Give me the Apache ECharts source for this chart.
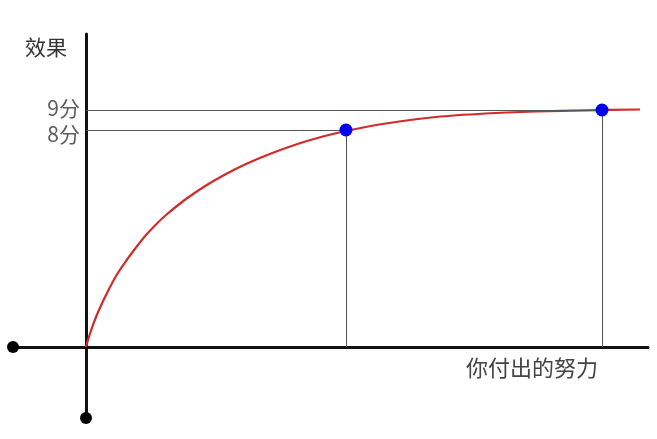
<!DOCTYPE html>
<html>
<head>
<meta charset="utf-8">
<script src="https://cdn.jsdelivr.net/npm/echarts@6/dist/echarts.min.js"></script>
<style>html,body{margin:0;padding:0;background:#fff;}#c{width:657px;height:439px;}</style>
</head>
<body>
<div id="c"></div>
<script>
// effort (x) vs effect (y)
var curveX = [0, 5, 10, 15, 20, 30, 40, 50, 60, 70, 80, 100, 120, 140, 160, 185, 210, 235, 260, 300, 350, 400, 450, 500, 554];
var curveY = [0, 16.5, 30, 41.5, 52, 71, 86, 99.5, 112, 122.5, 132, 148, 161.5, 173, 183, 193.5, 202.5, 210, 216, 223.5, 230, 233.5, 235.5, 236.7, 237.5];
var pointX = [260, 516];
var pointY = [217, 237];
var tickLabels = ['8分', '9分'];
var axisEnds = [[-73, 0], [0, -71]];
var yTitle = '效果';
var xTitle = '你付出的努力';

var font = '"Noto Sans CJK SC", "Noto Sans", sans-serif';
var curve = curveX.map(function (x, i) { return [x, curveY[i]]; });
var pts = pointX.map(function (x, i) { return [x, pointY[i]]; });
var guides = [];
pts.forEach(function (p) {
  guides.push([{ coord: [0, p[1]] }, { coord: [p[0], p[1]] }]);
  guides.push([{ coord: [p[0], p[1]] }, { coord: [p[0], 0] }]);
});
var labelOffsets = [[0, 4], [0, -1.5]];
var tickData = pts.map(function (p, i) {
  return { value: [0, p[1]], label: { formatter: tickLabels[i], offset: labelOffsets[i] } };
});

var chart = echarts.init(document.getElementById('c'));
chart.setOption({
  animation: false,
  grid: { left: 13, right: 9, top: 34, bottom: 21 },
  xAxis: {
    type: 'value', min: -73, max: 562,
    axisLine: { onZero: true, lineStyle: { color: '#111', width: 3 } },
    axisTick: { show: false }, axisLabel: { show: false }, splitLine: { show: false }
  },
  yAxis: {
    type: 'value', min: -71, max: 313,
    axisLine: { show: true, onZero: true, lineStyle: { color: '#111', width: 3 } },
    axisTick: { show: false }, axisLabel: { show: false }, splitLine: { show: false }
  },
  graphic: [
    { type: 'text', left: 25, top: 37, style: { text: yTitle, font: '21px ' + font, fill: '#333' } },
    { type: 'text', left: 466, top: 357, style: { text: xTitle, font: '22px ' + font, fill: '#444' } }
  ],
  series: [
    {
      type: 'line', data: curve, smooth: 0.3, showSymbol: false, silent: true,
      lineStyle: { color: '#d42a2a', width: 2.2 }, z: 3,
      markLine: {
        silent: true, symbol: ['none', 'none'], animation: false,
        lineStyle: { color: '#555', width: 1, type: 'solid' },
        label: { show: false }, data: guides
      }
    },
    {
      type: 'scatter', data: pts, symbolSize: 13, clip: false, z: 5,
      itemStyle: { color: '#0000f0', opacity: 1 }
    },
    {
      type: 'scatter', data: axisEnds, symbolSize: 12, clip: false, z: 5,
      itemStyle: { color: '#000', opacity: 1 }
    },
    {
      type: 'scatter', data: tickData, symbolSize: 0, clip: false,
      label: { show: true, position: 'left', distance: 6, fontFamily: font, fontSize: 21, color: '#333' }
    }
  ]
});
</script>
</body>
</html>
